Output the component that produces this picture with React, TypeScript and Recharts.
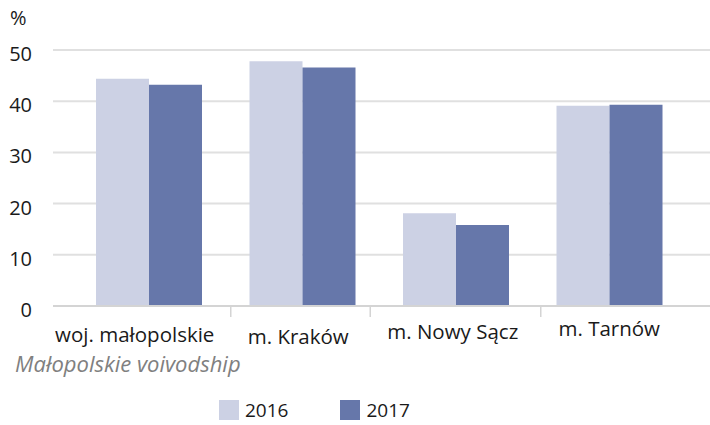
import React from "react";
import { BarChart, Bar, XAxis, YAxis, CartesianGrid } from "recharts";

const categories = ["woj. małopolskie", "m. Kraków", "m. Nowy Sącz", "m. Tarnów"];
const values2016 = [44.4, 47.8, 18.1, 39.1];
const values2017 = [43.2, 46.6, 15.8, 39.3];
const seriesNames = ["2016", "2017"];
const yTicks = [0, 10, 20, 30, 40, 50];
const unitLabel = "%";
const subtitle = "Małopolskie voivodship";

const colors = ["#CCD1E4", "#6677AA"];
const FONT = "'Open Sans', sans-serif";

const data = categories.map((c, i) => ({
  name: c,
  v2016: values2016[i],
  v2017: values2017[i],
}));

const labelDx = [-14, -4, -3, 0];
const labelBaseline = [342, 344, 339, 336];
const sepOffsets = [82, 68, 85];

const CatTick = (props: any) => {
  const { x, payload, index } = props;
  return (
    <g>
      <text
        x={x + labelDx[index]}
        y={labelBaseline[index]}
        textAnchor="middle"
        fontFamily={FONT}
        fontSize={20.5}
        fill="#1a1a1a"
      >
        {payload.value}
      </text>
      {index < sepOffsets.length ? (
        <line
          x1={x + sepOffsets[index]}
          x2={x + sepOffsets[index]}
          y1={306}
          y2={317}
          stroke="#d4d4d4"
          strokeWidth={1.5}
        />
      ) : null}
    </g>
  );
};

const ValTick = (props: any) => {
  const { y, payload } = props;
  return (
    <text
      x={32}
      y={y + 11}
      textAnchor="end"
      fontFamily={FONT}
      fontSize={20}
      fill="#1a1a1a"
    >
      {payload.value}
    </text>
  );
};

export default function App() {
  return (
    <div
      style={{
        position: "absolute",
        left: 0,
        top: 0,
        width: 710,
        height: 425,
        background: "#fff",
        fontFamily: FONT,
        overflow: "hidden",
      }}
    >
      <BarChart
        width={710}
        height={425}
        data={data}
        margin={{ top: 50, right: 0, left: 8, bottom: 89 }}
        barGap={0}
        barSize={53}
      >
        <CartesianGrid vertical={false} stroke="#e0e0e0" strokeWidth={2} />
        <XAxis
          dataKey="name"
          height={30}
          axisLine={{ stroke: "#d4d4d4", strokeWidth: 2 }}
          tickLine={false}
          tick={<CatTick />}
          interval={0}
          padding={{ left: 19, right: 24 }}
        />
        <YAxis
          width={45}
          domain={[0, 50]}
          ticks={yTicks}
          axisLine={false}
          tickLine={false}
          tick={<ValTick />}
          interval={0}
        />
        <Bar dataKey="v2016" name={seriesNames[0]} fill={colors[0]} isAnimationActive={false} />
        <Bar dataKey="v2017" name={seriesNames[1]} fill={colors[1]} isAnimationActive={false} />
      </BarChart>
      <div
        style={{
          position: "absolute",
          left: 10,
          top: 5,
          fontSize: 20,
          color: "#1a1a1a",
          lineHeight: "26px",
        }}
      >
        {unitLabel}
      </div>
      <div
        style={{
          position: "absolute",
          left: 15,
          top: 352,
          fontSize: 22,
          fontStyle: "italic",
          color: "#808080",
          lineHeight: "22px",
          whiteSpace: "nowrap",
        }}
      >
        {subtitle}
      </div>
      <div
        style={{
          position: "absolute",
          left: 219,
          top: 400,
          display: "flex",
          alignItems: "center",
          fontSize: 19,
          color: "#1a1a1a",
          lineHeight: "20px",
        }}
      >
        {seriesNames.map((n, i) => (
          <div key={n} style={{ display: "flex", alignItems: "center", marginRight: i === 0 ? 52 : 0 }}>
            <div style={{ width: 20, height: 20, background: colors[i], marginRight: 6 }} />
            <span>{n}</span>
          </div>
        ))}
      </div>
    </div>
  );
}
